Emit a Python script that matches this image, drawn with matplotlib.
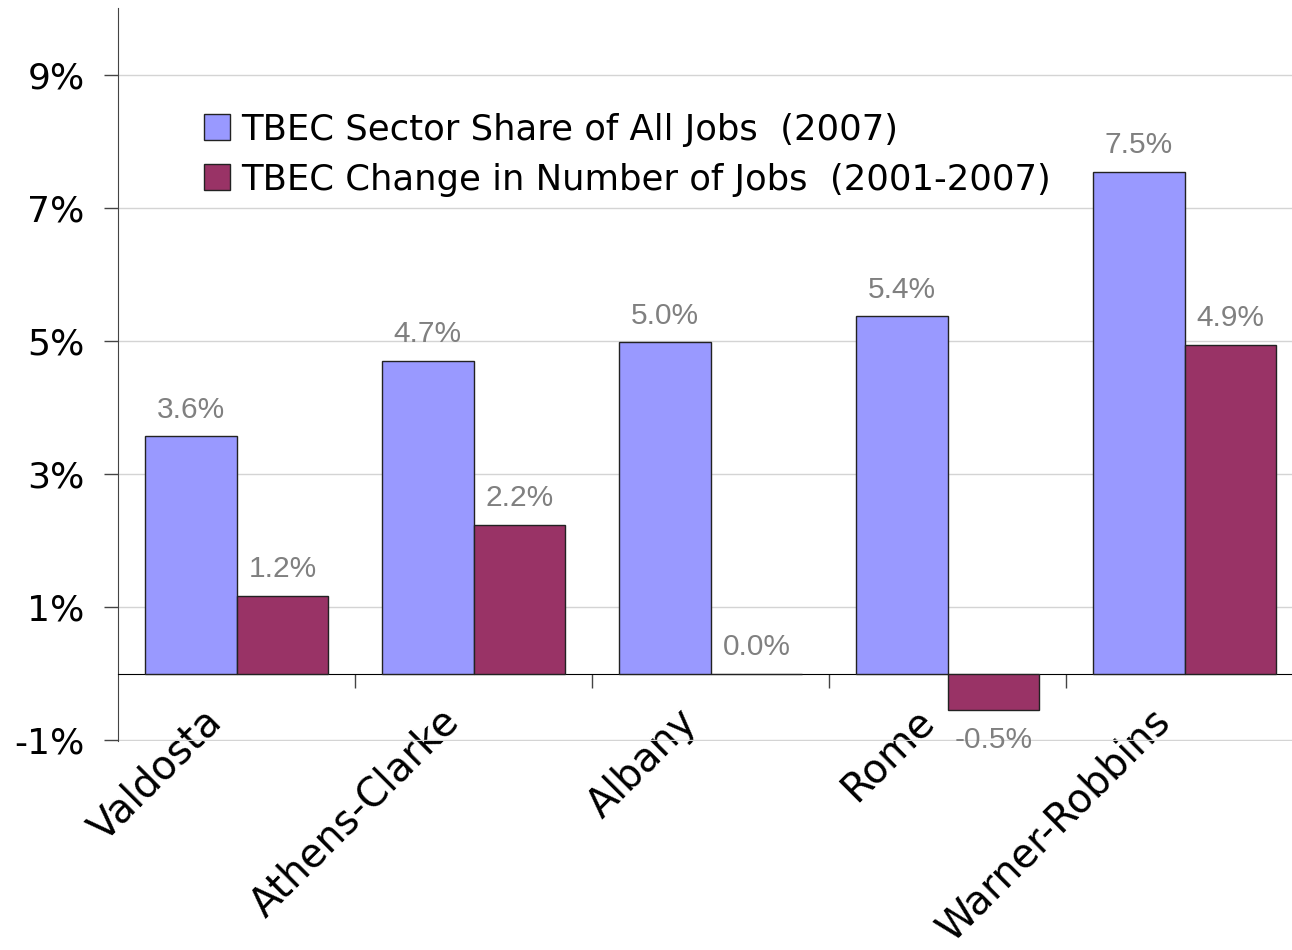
import numpy as np
import matplotlib.pyplot as plt
from matplotlib.ticker import FixedLocator

cities = ["Valdosta", "Athens-Clarke", "Albany", "Rome", "Warner-Robbins"]
share_2007 = [3.57, 4.70, 4.98, 5.37, 7.54]
change_01_07 = [1.17, 2.24, 0.0, -0.54, 4.94]
series_names = ["TBEC Sector Share of All Jobs  (2007)",
                "TBEC Change in Number of Jobs  (2001-2007)"]
yticks = [-1, 1, 3, 5, 7, 9]

BLUE = "#9999ff"
PLUM = "#993366"
label_font = "DejaVu Sans"

fig = plt.figure(figsize=(12.92, 9.5), dpi=100)
ax = fig.add_axes([118 / 1292, 209 / 950, 1185 / 1292, 733 / 950])

x = np.arange(len(cities))
w = 0.388
b1 = ax.bar(x - w / 2, share_2007, w, color=BLUE, edgecolor="#222222", linewidth=1, zorder=3,
            label=series_names[0])
b2 = ax.bar(x + w / 2, change_01_07, w, color=PLUM, edgecolor="#222222", linewidth=1, zorder=3,
            label=series_names[1])

for bars, vals in ((b1, share_2007), (b2, change_01_07)):
    for rect, v in zip(bars, vals):
        cx = rect.get_x() + rect.get_width() / 2
        if v < 0:
            ax.annotate(f"{v:.1f}%", (cx, v), xytext=(0, -12), textcoords="offset points",
                        ha="center", va="top", fontsize=21.5, color="#808080",
                        family="Liberation Sans", zorder=4)
        else:
            ax.annotate(f"{v:.1f}%", (cx, v), xytext=(0, 9), textcoords="offset points",
                        ha="center", va="bottom", fontsize=21.5, color="#808080",
                        family="Liberation Sans", zorder=4)

ax.set_xlim(-0.5, len(cities) - 0.5)
ax.set_ylim(-1.01, 10)

ax.set_yticks(yticks)
ax.set_yticklabels([f"{t}%" for t in yticks], fontsize=26, family=label_font)
ax.yaxis.grid(True, color="#d4d4d4", linewidth=1, zorder=0)
ax.tick_params(axis="y", length=10, width=1, color="#444444", pad=14)

ax.spines["top"].set_visible(False)
ax.spines["right"].set_visible(False)
ax.spines["left"].set_color("#444444")
ax.spines["bottom"].set_position(("data", 0))
ax.spines["bottom"].set_color("black")

# labels sit a little left of the category centre, like the original
ax.set_xticks(x - 0.085)
ax.set_xticklabels(cities, rotation=45, ha="right", va="center", rotation_mode="anchor",
                   fontsize=28.5, family=label_font)
ax.xaxis.set_minor_locator(FixedLocator(x[:-1] + 0.5))
ax.tick_params(axis="x", which="major", length=0, pad=30)
ax.tick_params(axis="x", which="minor", length=10, width=1, color="#444444")

leg = ax.legend(loc="upper left", bbox_to_anchor=(179 / 1292, 1 - 88 / 950),
                bbox_transform=fig.transFigure, frameon=True,
                facecolor="white", edgecolor="none", framealpha=1, fancybox=False,
                handlelength=0.75, handleheight=0.75, handletextpad=0.3, labelspacing=0.45,
                borderpad=0.2, prop={"family": label_font, "size": 25.5})

fig.savefig("out.png", dpi=100)
